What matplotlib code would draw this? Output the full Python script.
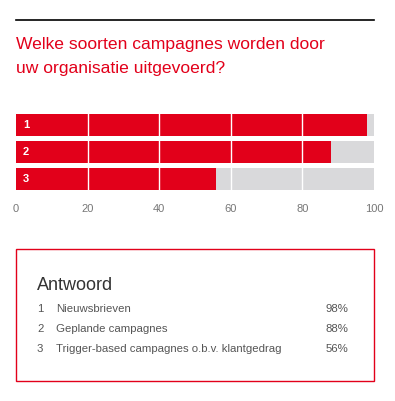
import matplotlib
matplotlib.use('Agg')
import matplotlib.pyplot as plt
from matplotlib.patches import Rectangle
from matplotlib.lines import Line2D

labels = ['1', '2', '3']
answers = ['Nieuwsbrieven', 'Geplande campagnes', 'Trigger-based campagnes o.b.v. klantgedrag']
values = [98, 88, 56]
ticks = [0, 20, 40, 60, 80, 100]

red = '#e2001a'
grey = '#d9d9db'
text_col = '#555555'

plt.rcParams['font.family'] = ['Liberation Sans', 'DejaVu Sans']

W, H = 395, 401
fig = plt.figure(figsize=(W / 100, H / 100), dpi=100)

def fx(px):
    return px / W

def fy(py):
    return 1 - py / H

# top rule
fig.add_artist(Line2D([fx(16), fx(374)], [fy(20), fy(20)], color='black', lw=1.2))

# title
fig.text(fx(16), fy(44), 'Welke soorten campagnes worden door', color=red,
         fontsize=12.6, va='center', ha='left')
fig.text(fx(16), fy(68), 'uw organisatie uitgevoerd?', color=red,
         fontsize=12.6, va='center', ha='left')

# bar chart
ax = fig.add_axes([fx(16), fy(190), fx(374) - fx(16), fy(114) - fy(190)])
pos = list(range(len(values)))
ax.barh(pos, [100] * len(values), height=0.83, color=grey, zorder=1)
ax.barh(pos, values, height=0.83, color=red, zorder=2)
for x in ticks[1:-1]:
    ax.axvline(x, color='white', lw=1, zorder=3)
for p, lab in zip(pos, labels):
    ax.annotate(lab, (0, p), xytext=(5, 0), textcoords='offset points',
                color='white', fontsize=8, fontweight='bold', va='center', ha='left', zorder=4)
ax.set_xlim(0, 100)
ax.set_ylim(len(values) - 1 + 0.415, -0.415)
ax.set_xticks(ticks)
ax.set_yticks([])
ax.tick_params(axis='x', length=0, pad=10, labelsize=8, labelcolor='#777777')
for s in ax.spines.values():
    s.set_visible(False)

# answer box
fig.add_artist(Rectangle((fx(16), fy(381)), fx(374) - fx(16), fy(249) - fy(381),
                         transform=fig.transFigure, fill=False, edgecolor=red, lw=1))
fig.text(fx(37), fy(286), 'Antwoord', color='#333333', fontsize=13, va='center', ha='left')
for i, (lab, ans, v) in enumerate(zip(labels, answers, values)):
    y = fy(309 + 20 * i)
    fig.text(fx(37), y, lab, color=text_col, fontsize=8.2, va='center', ha='left')
    fig.text(fx(56), y, ans, color=text_col, fontsize=8.2, va='center', ha='left')
    fig.text(fx(348), y, f'{v}%', color=text_col, fontsize=8.2, va='center', ha='right')

fig.savefig('out.png', dpi=100)
